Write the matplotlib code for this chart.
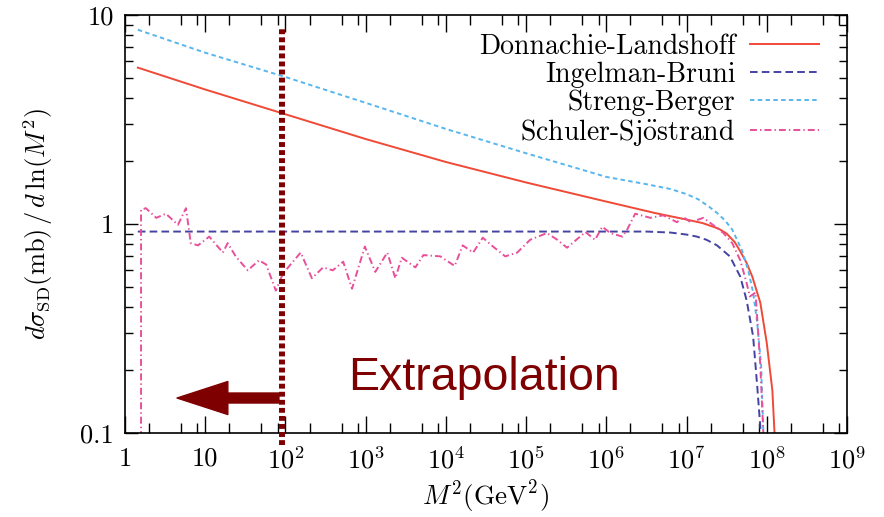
import numpy as np
import matplotlib
matplotlib.use("Agg")
from matplotlib import pyplot as plt
from matplotlib import ticker

plt.rcParams["font.family"] = "serif"
plt.rcParams["font.serif"] = ["cmr10", "DejaVu Serif"]
plt.rcParams["mathtext.fontset"] = "cm"
plt.rcParams["axes.formatter.use_mathtext"] = True
plt.rcParams["lines.scale_dashes"] = False

# log10(M^2) positions and dsigma/dlnM^2 values
dl_logm2 = [0.16, 1.0, 2.0, 3.0, 4.0, 5.0, 6.0, 6.6, 7.0, 7.2, 7.4, 7.5, 7.6, 7.67, 7.75, 7.82, 7.92, 8.0, 8.07, 8.1]
dl_val = [5.6, 4.4, 3.35, 2.55, 1.98, 1.58, 1.28, 1.13, 1.05, 1.01, 0.95, 0.90, 0.82, 0.74, 0.65, 0.56, 0.42, 0.27, 0.16, 0.095]

ib_logm2 = [0.16, 6.5, 6.8, 7.0, 7.13, 7.25, 7.38, 7.54, 7.67, 7.75, 7.83, 7.88, 7.93]
ib_val = [0.92, 0.92, 0.91, 0.89, 0.87, 0.84, 0.79, 0.70, 0.56, 0.43, 0.29, 0.17, 0.095]

sb_logm2 = [0.16, 1.0, 2.0, 3.0, 4.0, 5.0, 6.0, 6.5, 6.8, 7.0, 7.15, 7.28, 7.38, 7.48, 7.57, 7.69, 7.77, 7.83, 7.88, 7.93, 7.96]
sb_val = [8.5, 6.6, 5.05, 3.8, 2.85, 2.18, 1.68, 1.55, 1.47, 1.39, 1.31, 1.21, 1.13, 1.04, 0.94, 0.75, 0.60, 0.47, 0.34, 0.21, 0.095]

ss_logm2 = [0.2, 0.2, 0.26, 0.39, 0.51, 0.66, 0.76, 0.82, 0.91, 1.05, 1.22, 1.28, 1.38, 1.53,
            1.67, 1.76, 1.88, 1.97, 2.19, 2.33, 2.47, 2.59, 2.72, 2.83, 2.99, 3.12, 3.27,
            3.37, 3.45, 3.62, 3.72, 3.93, 4.11, 4.21, 4.34, 4.46, 4.57, 4.74, 4.89, 5.05,
            5.26, 5.39, 5.51, 5.74, 5.86, 5.95, 6.05, 6.20, 6.26, 6.36, 6.55, 6.71, 6.88,
            6.96, 7.05, 7.21, 7.33, 7.46, 7.57, 7.67, 7.75, 7.79, 7.86, 7.88, 7.92, 7.96]
ss_val = [0.05, 1.17, 1.19, 1.07, 1.12, 0.99, 1.19, 0.81, 0.79, 0.87, 0.73, 0.81, 0.70, 0.60,
          0.67, 0.64, 0.48, 0.58, 0.73, 0.55, 0.62, 0.60, 0.66, 0.49, 0.78, 0.59, 0.73,
          0.55, 0.69, 0.62, 0.71, 0.70, 0.63, 0.79, 0.73, 0.86, 0.79, 0.70, 0.73, 0.84,
          0.905, 0.84, 0.77, 0.915, 0.84, 0.97, 0.905, 0.87, 0.94, 1.12, 1.07, 1.10, 1.02,
          1.08, 1.02, 1.07, 0.99, 0.905, 0.81, 0.67, 0.52, 0.45, 0.47, 0.36, 0.21, 0.095]

extrap_m2 = 91       # position of the dotted "extrapolation" boundary
xtick_labels = ["1", "10"] + [f"$10^{k}$" for k in range(2, 10)]

fig = plt.figure(figsize=(8.84, 5.17), dpi=100)
ax = fig.add_axes([0.1414, 0.1625, 0.8167, 0.8085])

ax.plot(10 ** np.array(dl_logm2), dl_val, color="#f04a37", lw=1.4, label="Donnachie-Landshoff")
ax.plot(10 ** np.array(ib_logm2), ib_val, color="#4343a3", lw=1.4, ls=(0, (5.5, 3.0)),
        label="Ingelman-Bruni")
ax.plot(10 ** np.array(sb_logm2), sb_val, color="#58b6ee", lw=1.4, ls=(0, (3.2, 2.4)),
        label="Streng-Berger")
ax.plot(10 ** np.array(ss_logm2), ss_val, color="#e8509a", lw=1.4, ls=(0, (5.0, 2.2, 1.0, 2.2)),
        label=r"Schuler-Sj$\ddot{\rm o}$strand")

ax.set_xscale("log")
ax.set_yscale("log")
ax.set_xlim(1, 1e9)
ax.set_ylim(0.1, 10)

ax.xaxis.set_major_locator(ticker.FixedLocator([10.0 ** k for k in range(10)]))
ax.xaxis.set_major_formatter(ticker.FixedFormatter(xtick_labels))
ax.xaxis.set_minor_locator(ticker.LogLocator(base=10, subs=(2, 5, 8), numticks=20))
ax.xaxis.set_minor_formatter(ticker.NullFormatter())
ax.yaxis.set_major_locator(ticker.FixedLocator([0.1, 1, 10]))
ax.yaxis.set_major_formatter(ticker.FixedFormatter(["0.1", "1", "10"]))
ax.yaxis.set_minor_locator(ticker.LogLocator(base=10, subs=np.arange(2, 10), numticks=20))
ax.yaxis.set_minor_formatter(ticker.NullFormatter())

ax.tick_params(which="both", direction="in", top=True, right=True, width=1.0, labelsize=19)
ax.tick_params(axis="x", which="major", length=12, pad=10)
ax.tick_params(axis="x", which="minor", length=7)
ax.tick_params(axis="y", which="major", length=9.5, pad=8)
ax.tick_params(axis="y", which="minor", length=6)
for sp in ax.spines.values():
    sp.set_linewidth(1.2)

ax.set_xlabel(r"$M^2(\rm GeV^2)$", fontsize=19.5, labelpad=4)
ax.set_ylabel(r"$d\sigma_{\rm SD}({\rm mb})\,/\,d\,\ln(M^2)$", fontsize=19, labelpad=18)

# extrapolation marker
ax.axvline(extrap_m2, ymin=-0.029, ymax=0.969, color="#7f0000", lw=4.3,
           ls=(0, (3.5, 2.3)), clip_on=False, zorder=5)
ax.annotate("", xy=(4.45, 0.147), xytext=(83, 0.147),
            arrowprops=dict(arrowstyle="simple,head_length=1.83,head_width=1.19,tail_width=0.36",
                            mutation_scale=20, color="#7f0000", shrinkA=0, shrinkB=0))
ax.text(10 ** 2.78, 10 ** -0.794, "Extrapolation", family="Liberation Sans",
        fontsize=33.5, color="#7f0000", va="baseline", ha="left")

ax.legend(loc="upper right", bbox_to_anchor=(0.961, 0.955), frameon=False,
          markerfirst=False, fontsize=20, borderpad=0, borderaxespad=0,
          labelspacing=0.05, handlelength=2.46, handletextpad=0.54)

fig.savefig("out.png", dpi=100)
